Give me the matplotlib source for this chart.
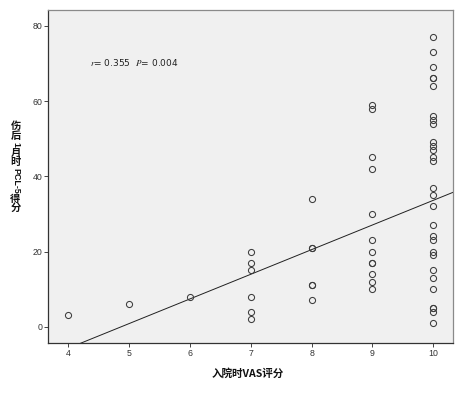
import matplotlib
matplotlib.use("Agg")
import matplotlib.pyplot as plt

plt.rcParams['font.family'] = ['Noto Sans CJK SC', 'DejaVu Sans']
plt.rcParams['mathtext.fontset'] = 'stix'

# ---- data ----
vas_x = [4,
         5,
         6,
         7, 7, 7, 7, 7, 7,
         8, 8, 8, 8, 8, 8,
         9, 9, 9, 9, 9, 9, 9, 9, 9, 9, 9, 9,
         10, 10, 10, 10, 10, 10, 10, 10, 10, 10, 10, 10, 10, 10, 10,
         10, 10, 10, 10, 10, 10, 10, 10, 10, 10, 10, 10, 10, 10]
pcl_y = [3,
         6,
         8,
         20, 17, 15, 8, 4, 2,
         34, 21, 21, 11, 11, 7,
         59, 58, 45, 42, 30, 23, 20, 17, 17, 14, 12, 10,
         77, 73, 69, 66, 66, 64, 56, 55, 54, 49, 48, 47, 45, 44, 37,
         35, 32, 27, 24, 23, 20, 19, 15, 13, 10, 5, 5, 4, 1]
fit_slope = 6.55
fit_intercept = -31.9
x_ticks = [4, 5, 6, 7, 8, 9, 10]
y_ticks = [0, 20, 40, 60, 80]
annot_r = "0.355"
annot_p = "0.004"
x_label = "入院时VAS评分"
y_label_parts = [("伤", False), ("后", False), ("1", True), ("月", False),
                 ("时", False), ("PCL-5", True), ("得", False), ("分", False)]

W, H = 463, 399
fig = plt.figure(figsize=(W / 100, H / 100), dpi=100)
fig.patch.set_facecolor('white')

def fx(px):
    return px / W

def fy(py):
    return 1 - py / H

ax = fig.add_axes([fx(48.3), fy(343.3), fx(453.3) - fx(48.3), fy(10) - fy(343.3)])
ax.set_facecolor('#F0F0F0')
ax.set_xlim(3.67, 10.33)
ax.set_ylim(-4.4, 84.2)

ax.plot(vas_x, pcl_y, linestyle='none', marker='o', markersize=4.4,
        markerfacecolor='none', markeredgecolor='#3c3c3c', markeredgewidth=0.75,
        zorder=3)
ax.axline((0, fit_intercept), slope=fit_slope, color='#202020', linewidth=0.7, zorder=2)

ax.set_xticks(x_ticks)
ax.set_yticks(y_ticks)
ax.tick_params(axis='both', direction='out', length=3.2, width=0.7,
               color='#444444', labelsize=6.3, labelcolor='#333333', pad=1)
for lab in ax.get_xticklabels() + ax.get_yticklabels():
    lab.set_fontfamily(['Liberation Sans', 'DejaVu Sans'])

for side in ['left', 'bottom']:
    ax.spines[side].set_color('#333333')
    ax.spines[side].set_linewidth(0.9)
for side in ['top', 'right']:
    ax.spines[side].set_color('#8a8a8a')
    ax.spines[side].set_linewidth(0.9)

ax.text(4.36, 70.2, r"$r$= " + annot_r + r"  $P$= " + annot_p,
        fontsize=6.5, color='#222222', va='center', ha='left',
        family=['DejaVu Sans'])

# x label
fig.text(fx(248), fy(373), x_label, ha='center', va='center',
         fontsize=7.6, fontweight='bold', color='#111111')

# y label: vertical writing, CJK upright, latin rotated
centers = [125.6, 135.6, 144.6, 152.8, 162.4, 180.6, 198.8, 208.2]
for (txt, rot), cy in zip(y_label_parts, centers):
    if rot:
        fam = ['Liberation Sans', 'DejaVu Sans']
        size = 6.4
    else:
        fam = ['Noto Sans CJK SC', 'DejaVu Sans']
        size = 7.4
    fig.text(fx(15.5), fy(cy), txt, ha='center', va='center',
             rotation=270 if rot else 0, fontsize=size, fontweight='bold',
             color='#111111', family=fam)

fig.savefig("out.png", dpi=100, facecolor='white')
